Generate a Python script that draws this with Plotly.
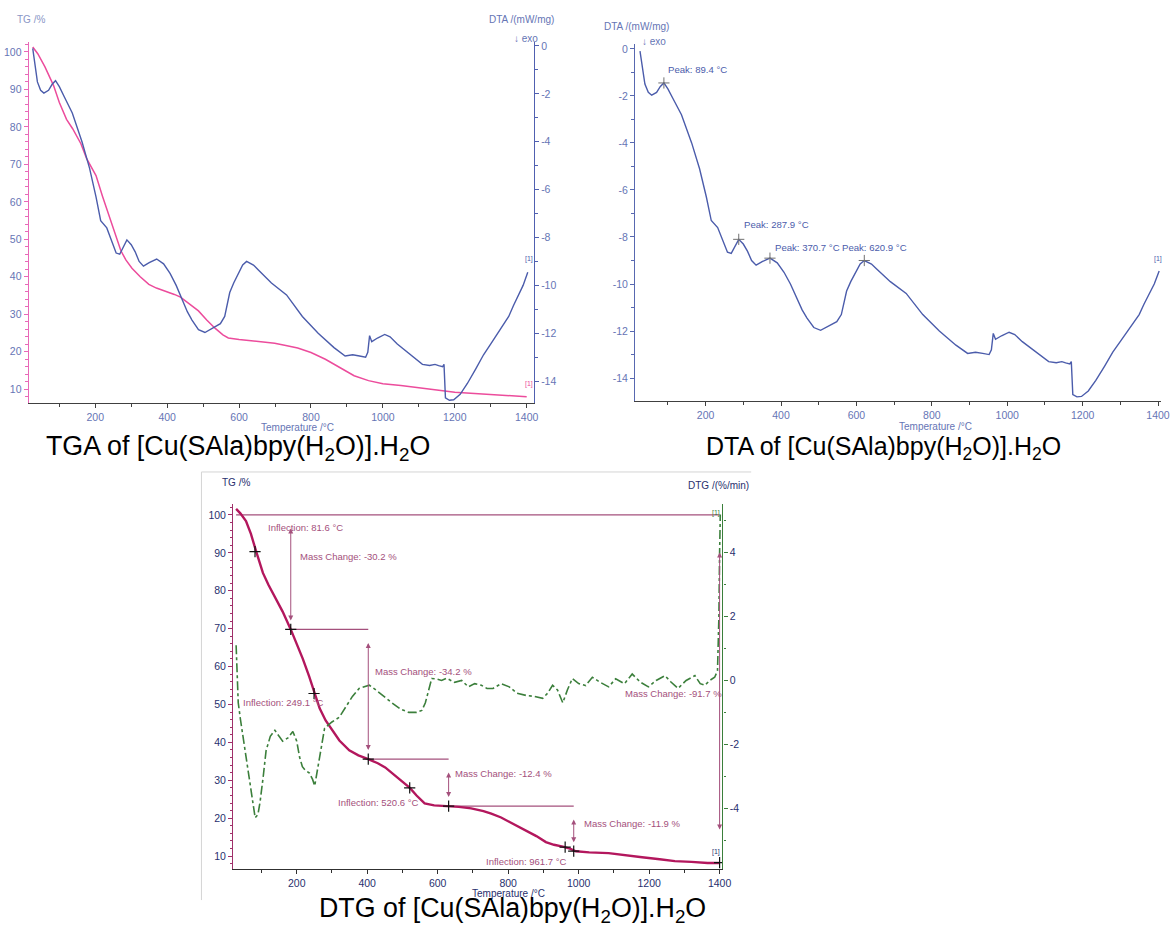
import plotly.graph_objects as go

W, H = 1175, 926
FONT = "Liberation Sans, Arial, sans-serif"

# ---------------- data: panel 1 (TG %) ----------------
tga_T = [26, 40, 60, 84, 100, 120, 137, 160, 176, 190, 202, 220, 243, 260, 271, 285, 302, 325, 349, 370,
         395, 420, 437, 460, 487, 510, 533, 555, 570, 600, 633, 670, 699, 730, 763, 800, 840, 880, 920,
         960, 1000, 1050, 1100, 1150, 1200, 1250, 1300, 1350, 1400]
tga_TG = [101.3, 99.5, 96, 91, 86.5, 82, 79.5, 75.5, 71.5, 69, 67, 61.5, 55, 50, 47, 44.5, 42.3, 40, 38, 37,
          36.2, 35.3, 34.6, 33, 30.9, 28.5, 26.3, 24.5, 23.7, 23.3, 23, 22.7, 22.3, 21.7, 21, 19.8, 18, 15.8,
          13.6, 12.3, 11.5, 11, 10.3, 9.8, 9.2, 8.9, 8.6, 8.3, 8.0]

# ---------------- data: DTA (mW/mg) ----------------
dta_T = [26, 30, 35, 39, 48, 57, 70, 80, 89.4, 100, 113, 136, 163, 184, 202, 215, 232, 245, 258, 268, 278,
         287.9, 300, 311, 322, 334, 350, 370.7, 390, 408, 425, 442, 456, 469, 487, 505, 525, 548, 560, 574,
         585, 597, 610, 620.9, 640, 653, 690, 732, 776, 820, 864, 895, 916, 935, 952, 958, 963, 969, 985,
         1005, 1020, 1040, 1060, 1083, 1110, 1130, 1145, 1155, 1166, 1170, 1174, 1185, 1197, 1215, 1235,
         1258, 1280, 1302, 1320, 1337, 1350, 1363, 1378, 1390, 1403]
dta_val = [-0.1, -0.6, -1.0, -1.5, -1.85, -1.97, -1.85, -1.6, -1.45, -1.7, -2.1, -2.8, -4.0, -5.1, -6.3, -7.3,
           -7.6, -8.1, -8.65, -8.7, -8.4, -8.1, -8.3, -8.6, -9.0, -9.2, -9.05, -8.9, -9.1, -9.5, -10.0, -10.6,
           -11.1, -11.45, -11.85, -11.97, -11.8, -11.6, -11.3, -10.3, -9.9, -9.55, -9.15, -9.0, -9.15, -9.35,
           -9.9, -10.4, -11.3, -12.0, -12.6, -12.95, -12.9, -12.95, -13.0, -12.8, -12.1, -12.35, -12.2,
           -12.05, -12.15, -12.45, -12.7, -12.95, -13.3, -13.35, -13.3, -13.35, -13.4, -13.3, -14.7, -14.8,
           -14.78, -14.55, -14.1, -13.5, -12.9, -12.4, -12.0, -11.6, -11.3, -10.85, -10.4, -10.0, -9.45]
peak_T = [89.4, 287.9, 370.7, 620.9]
peak_DTA = [-1.45, -8.1, -8.9, -9.0]
peak_labels = ["Peak: 89.4 °C", "Peak: 287.9 °C", "Peak: 370.7 °C", "Peak: 620.9 °C"]

# ---------------- data: panel 3 (TG % and DTG %/min) ----------------
tg3_T = [28, 40, 56, 70, 85, 104, 120, 141, 160, 183, 200, 217, 235, 251, 265, 282, 300, 321, 349, 375, 403,
         430, 451, 480, 500, 521, 540, 563, 590, 631, 660, 695, 730, 752, 780, 804, 830, 851, 880, 907, 930,
         955, 975, 992, 1030, 1085, 1130, 1180, 1230, 1273, 1320, 1366, 1400]
tg3_TG = [101.6, 100.4, 98.4, 95, 90.3, 84.7, 81.5, 77.9, 74.5, 69.8, 66, 62.1, 57.5, 52.9, 49, 45.8, 43.2,
          40.5, 37.9, 36.6, 35.6, 34.5, 33.4, 31.2, 29.6, 28.0, 26, 23.9, 23.4, 23.2, 23.0, 22.6, 21.9, 21.2,
          20.2, 19.0, 17.8, 16.8, 15.3, 13.7, 13.0, 12.5, 12.0, 11.3, 11.0, 10.8, 10.2, 9.7, 9.2, 8.7, 8.5,
          8.2, 8.2]
dtg_T = [28, 34, 40, 48, 58, 68, 76, 82, 90, 96, 105, 113, 125, 138, 150, 160, 175, 189, 200, 208, 216, 223,
         236, 245, 251, 258, 265, 279, 300, 321, 340, 358, 377, 392, 406, 425, 447, 470, 495, 518, 540, 555,
         565, 575, 583, 597, 611, 625, 648, 668, 687, 705, 724, 740, 757, 780, 803, 825, 851, 875, 898, 912,
         926, 940, 955, 968, 982, 1000, 1020, 1039, 1060, 1085, 1105, 1130, 1152, 1175, 1198, 1220, 1245,
         1262, 1282, 1305, 1330, 1345, 1358, 1372, 1386, 1394, 1398, 1400, 1402]
dtg_val = [1.1, -0.7, -1.2, -1.8, -2.6, -3.3, -4.0, -4.3, -4.2, -3.8, -3.0, -2.2, -1.75, -1.56, -1.75, -1.9,
           -1.8, -1.6, -1.9, -2.4, -2.7, -2.8, -2.9, -3.1, -3.3, -2.9, -2.4, -1.5, -1.3, -1.15, -0.8, -0.5,
           -0.25, -0.2, -0.15, -0.3, -0.5, -0.7, -0.9, -1.0, -1.0, -0.94, -0.7, -0.31, 0.06, 0.05, 0.0, 0.07,
           -0.06, 0.0, -0.2, -0.1, -0.15, -0.25, -0.25, -0.1, -0.2, -0.4, -0.47, -0.5, -0.56, -0.4, -0.15,
           -0.3, -0.7, -0.3, 0.06, -0.1, -0.16, 0.1, -0.05, -0.2, 0.05, -0.1, 0.2, -0.05, -0.2, 0.0, 0.15,
           -0.05, -0.25, 0.0, 0.15, -0.1, -0.15, 0.0, 0.1, 0.3, 2.0, 4.0, 5.2]
infl_T = [81.6, 249.1, 520.6, 961.7]
infl_TG = [90.3, 52.9, 28.0, 12.4]
step_T = [183.0, 403.0, 631.0, 986.0]
mass_change = [-30.2, -34.2, -12.4, -11.9]
total_change = -91.7

# ---------------- helpers ----------------
def px(x):
    return x / W

def py(y):
    return 1 - y / H

blue = "#4b5cab"
pink = "#ec4c9c"
crimson = "#b3175d"
mauve = "#a4507c"
green = "#3b7f3b"
tick1 = "#6675b5"
tick3 = "#28306e"

fig = go.Figure()

# panel 1
fig.add_trace(go.Scatter(x=dta_T, y=dta_val, xaxis="x", yaxis="y2", mode="lines",
                         line=dict(color=blue, width=1.4), showlegend=False))
fig.add_trace(go.Scatter(x=tga_T, y=tga_TG, xaxis="x", yaxis="y", mode="lines",
                         line=dict(color=pink, width=1.5), showlegend=False))
# panel 2
fig.add_trace(go.Scatter(x=dta_T, y=dta_val, xaxis="x2", yaxis="y3", mode="lines",
                         line=dict(color=blue, width=1.4), showlegend=False))
fig.add_trace(go.Scatter(x=peak_T, y=peak_DTA, xaxis="x2", yaxis="y3", mode="markers",
                         marker=dict(symbol="cross-thin", size=8, line=dict(color="#707070", width=1)),
                         showlegend=False))
# panel 3
fig.add_trace(go.Scatter(x=dtg_T, y=dtg_val, xaxis="x3", yaxis="y5", mode="lines",
                         line=dict(color=green, width=1.6, dash="dashdot"), showlegend=False))

levels = [100.0]
for mc in mass_change:
    levels.append(round(levels[-1] + mc, 1))
fig.add_trace(go.Scatter(x=[tg3_T[0], tg3_T[-1]], y=[levels[0], levels[0]], xaxis="x3", yaxis="y4",
                         mode="lines", line=dict(color=mauve, width=1.2), showlegend=False))
for i in range(len(step_T) - 1):
    fig.add_trace(go.Scatter(x=[step_T[i], step_T[i + 1]], y=[levels[i + 1], levels[i + 1]],
                             xaxis="x3", yaxis="y4", mode="lines",
                             line=dict(color=mauve, width=1.2), showlegend=False))
fig.add_trace(go.Scatter(x=tg3_T, y=tg3_TG, xaxis="x3", yaxis="y4", mode="lines",
                         line=dict(color=crimson, width=2.4), showlegend=False))
cross_T = infl_T + step_T + [tg3_T[-1]]
cross_TG = infl_TG + levels[1:] + [levels[0] + total_change]
fig.add_trace(go.Scatter(x=cross_T, y=cross_TG, xaxis="x3", yaxis="y4", mode="markers",
                         marker=dict(symbol="cross-thin", size=8, line=dict(color="#111111", width=1.2)),
                         showlegend=False))

ann = []
# mass-change arrows and labels
for i, t in enumerate(step_T):
    ann.append(dict(x=t, y=levels[i + 1], ax=t, ay=levels[i], xref="x3", yref="y4", axref="x3", ayref="y4",
                    text="", showarrow=True, arrowhead=2, arrowsize=1, arrowwidth=1, arrowcolor=mauve,
                    arrowside="end+start", standoff=9, startstandoff=12))
    ann.append(dict(x=t, y=levels[i], xref="x3", yref="y4", text=f"Mass Change: {mass_change[i]} %",
                    showarrow=False, xanchor="left", yanchor="middle",
                    xshift=[7, 5, 4, 8][i], yshift=[-42, -42, -14, -17][i],
                    font=dict(family=FONT, size=9.5, color=mauve)))
ann.append(dict(x=tg3_T[-1], y=levels[0] + total_change, ax=tg3_T[-1], ay=levels[0], xref="x3", yref="y4",
                axref="x3", ayref="y4", text="", showarrow=True, arrowhead=2, arrowsize=1, arrowwidth=1,
                arrowcolor=mauve, arrowside="end+start", standoff=33, startstandoff=36))
ann.append(dict(x=tg3_T[-1], y=52.9, xref="x3", yref="y4", text=f"Mass Change: {total_change} %",
                showarrow=False, xanchor="right", yanchor="middle", xshift=4,
                font=dict(family=FONT, size=9.5, color=mauve)))
# inflection labels
infl_pos = [(113, 96.6), (42, 50.5), (310, 24.2), (730, 8.7)]
for t, (lx, ly) in zip(infl_T, infl_pos):
    ann.append(dict(x=lx, y=ly, xref="x3", yref="y4", text=f"Inflection: {t} °C", showarrow=False,
                    xanchor="left", yanchor="middle", font=dict(family=FONT, size=9.5, color=mauve)))

# peak labels panel 2
for t, v, lab, xs, ys in zip(peak_T, peak_DTA, peak_labels, [2, 3, 3, -24], [6, 7, 3, 5]):
    ann.append(dict(x=t, y=v, xref="x2", yref="y3", text=lab, showarrow=False, xanchor="left",
                    yanchor="bottom", xshift=xs, yshift=ys, font=dict(family=FONT, size=9.6, color="#4b5cab")))

def ptext(x, y, text, size, color, xanchor="left"):
    ann.append(dict(x=px(x), y=py(y), xref="paper", yref="paper", text=text, showarrow=False,
                    xanchor=xanchor, yanchor="middle", font=dict(family=FONT, size=size, color=color)))

# panel 1 labels
ptext(15, 18, "TG /%", 10, "#8a96c6")
ptext(560, 18, "DTA /(mW/mg)", 10, tick1, "right")
ptext(516, 37, "↓ exo", 10, tick1)
ptext(300, 426, "Temperature /°C", 10, tick1, "center")
ptext(533, 258, "[1]", 7, blue, "center")
ptext(533, 383, "[1]", 7, pink, "center")
# panel 2 labels
ptext(607, 25, "DTA /(mW/mg)", 10, tick1)
ptext(645, 40, "↓ exo", 10, tick1)
ptext(943, 425, "Temperature /°C", 10, tick1, "center")
ptext(1167, 258, "[1]", 7, blue, "center")
# panel 3 labels
ptext(222, 482, "TG /%", 10, tick3)
ptext(757, 485, "DTG /(%/min)", 10, tick3, "right")
ptext(512, 893, "Temperature /°C", 10, tick3, "center")
ptext(722, 512, "[1]", 7, green, "center")
ptext(722, 852, "[1]", 7, tick3, "center")
# titles
ptext(240, 447, "TGA of [Cu(SAla)bpy(H<sub>2</sub>O)].H<sub>2</sub>O", 26.8, "#000000", "center")
ptext(890.5, 447, "DTA of [Cu(SAla)bpy(H<sub>2</sub>O)].H<sub>2</sub>O", 25, "#000000", "center")
ptext(516.5, 910, "DTG of [Cu(SAla)bpy(H<sub>2</sub>O)].H<sub>2</sub>O", 26.8, "#000000", "center")

def xax(domain, rng, anchor, color, tcol):
    return dict(domain=domain, range=rng, anchor=anchor, showgrid=False, zeroline=False,
                showline=True, linecolor=color, linewidth=1.3, ticks="outside", ticklen=4,
                tickcolor=color, tickmode="array", tickvals=[200, 400, 600, 800, 1000, 1200, 1400],
                minor=dict(ticks="outside", ticklen=3, tickcolor=color,
                           tickmode="array", tickvals=list(range(100, 1401, 200))),
                tickfont=dict(family=FONT, size=10.5, color=tcol))

def yax(domain, rng, anchor, color, tcol, vals, minor_vals, side="left", overlaying=None):
    d = dict(domain=domain, range=rng, anchor=anchor, side=side, showgrid=False, zeroline=False,
             showline=True, linecolor=color, linewidth=1.3, ticks="outside", ticklen=4, tickcolor=color,
             tickmode="array", tickvals=vals, ticktext=[str(v) for v in vals],
             minor=dict(ticks="outside", ticklen=2.5, tickcolor=color, tickmode="array", tickvals=minor_vals),
             tickfont=dict(family=FONT, size=10.5, color=tcol))
    if overlaying:
        d["overlaying"] = overlaying
        d.pop("domain")
    return d

tg_vals = [10, 20, 30, 40, 50, 60, 70, 80, 90, 100]
tg_minor = list(range(8, 103, 2))
dta_vals = [0, -2, -4, -6, -8, -10, -12, -14]
dta_minor = list(range(-15, 1, 1))
dtg_vals = [4, 2, 0, -2, -4]
dtg_minor = list(range(-5, 6, 1))

fig.update_layout(
    width=W, height=H, margin=dict(l=0, r=0, t=0, b=0),
    paper_bgcolor="white", plot_bgcolor="rgba(0,0,0,0)", showlegend=False,
    xaxis=xax([px(29), px(538)], [15, 1420], "y", "#404040", tick1),
    yaxis=yax([py(402), py(40)], [6.3, 102.66], "x", "#e868b8", tick1, tg_vals, tg_minor),
    yaxis2=yax(None, [-14.92, 0.17], "x", "#5060b0", tick1, dta_vals, dta_minor, side="right", overlaying="y"),
    xaxis2=xax([px(640), px(1170)], [13, 1408], "y3", "#404040", tick1),
    yaxis3=yax([py(400), py(42)], [-14.98, 0.21], "x2", "#5868b0", tick1, dta_vals, dta_minor),
    xaxis3=xax([px(235), px(728)], [19.7, 1408], "y4", "#303030", tick3),
    yaxis4=yax([py(869), py(503)], [6.58, 102.9], "x3", "#a0306a", tick3, tg_vals, tg_minor),
    yaxis5=yax(None, [-5.91, 5.53], "x3", green, tick3, dtg_vals, dtg_minor, side="right", overlaying="y4"),
    annotations=ann,
    shapes=[
        dict(type="line", xref="paper", yref="paper", x0=px(203), x1=px(757), y0=py(471), y1=py(471),
             line=dict(color="#d4d4d4", width=1)),
        dict(type="line", xref="paper", yref="paper", x0=px(203), x1=px(203), y0=py(471), y1=py(900),
             line=dict(color="#d4d4d4", width=1)),
    ],
)

fig.write_html("out.html", config={"displayModeBar": False},
               post_script="document.body.style.margin='0';document.body.style.overflow='hidden';")
